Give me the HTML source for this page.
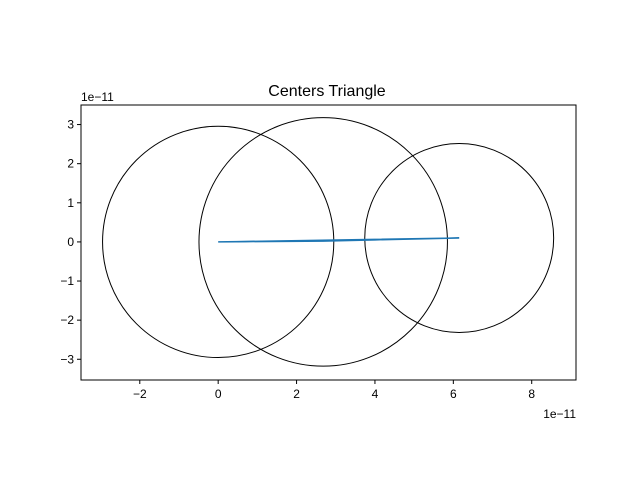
<!DOCTYPE html>
<html><head><meta charset="utf-8"><style>
body{margin:0;background:#fff;font-family:"Liberation Sans",sans-serif;}
</style></head><body>
<svg width="640" height="480" xmlns="http://www.w3.org/2000/svg" font-family="Liberation Sans, sans-serif">
<rect width="640" height="480" fill="#fff"/>
<text x="327" y="96" font-size="16" text-anchor="middle">Centers Triangle</text>
<g id="plot"></g>
<rect x="81" y="105" width="495" height="275" fill="none" stroke="#000" stroke-width="1"/>
<g id="xt" font-size="12" text-anchor="middle"></g>
<g id="yt" font-size="12" text-anchor="end"></g>
<text x="81" y="101" font-size="12">1e−11</text>
<text x="576" y="418" font-size="12" text-anchor="end">1e−11</text>
</svg>
<script>
const circleCx=[0,2.68,6.15];
const circleCy=[0,0,0.1];
const circleR=[2.95,3.17,2.41];
const triX=[0,2.68,6.15,0];
const triY=[0,0.02,0.1,0];
const xTicks=[-2,0,2,4,6,8];
const yTicks=[-3,-2,-1,0,1,2,3];
const X0=81,X1=576,Y0=105,Y1=380,xmin=-3.5,xmax=9.13,ymin=-3.53,ymax=3.5;
const sx=v=>X0+(v-xmin)/(xmax-xmin)*(X1-X0);
const sy=v=>Y1-(v-ymin)/(ymax-ymin)*(Y1-Y0);
const kx=(X1-X0)/(xmax-xmin);
const NS="http://www.w3.org/2000/svg";
const plot=document.getElementById('plot');
circleCx.forEach((c,i)=>{
 const e=document.createElementNS(NS,'circle');
 e.setAttribute('cx',sx(c));e.setAttribute('cy',sy(circleCy[i]));e.setAttribute('r',circleR[i]*kx);
 e.setAttribute('fill','none');e.setAttribute('stroke','#000');e.setAttribute('stroke-width','1');
 
 
 plot.appendChild(e);
});
const pl=document.createElementNS(NS,'polyline');
pl.setAttribute('points',triX.map((x,i)=>sx(x)+','+sy(triY[i])).join(' '));
pl.setAttribute('fill','none');pl.setAttribute('stroke','#1f77b4');pl.setAttribute('stroke-width','1.5');


plot.appendChild(pl);
const xt=document.getElementById('xt');
xTicks.forEach(t=>{
 const l=document.createElementNS(NS,'line');
 l.setAttribute('x1',sx(t));l.setAttribute('x2',sx(t));l.setAttribute('y1',Y1);l.setAttribute('y2',Y1+4);l.setAttribute('stroke','#000');
 
 
 xt.appendChild(l);
 const s=document.createElementNS(NS,'text');
 s.setAttribute('x',sx(t));s.setAttribute('y',Y1+18);s.textContent=String(t).replace('-','−');
 
 
 xt.appendChild(s);
});
const yt=document.getElementById('yt');
yTicks.forEach(t=>{
 const l=document.createElementNS(NS,'line');
 l.setAttribute('x1',X0-4);l.setAttribute('x2',X0);l.setAttribute('y1',sy(t));l.setAttribute('y2',sy(t));l.setAttribute('stroke','#000');
 
 
 yt.appendChild(l);
 const s=document.createElementNS(NS,'text');
 s.setAttribute('x',X0-7);s.setAttribute('y',sy(t)+4);s.textContent=String(t).replace('-','−');
 
 
 yt.appendChild(s);
});
</script>
</body></html>
